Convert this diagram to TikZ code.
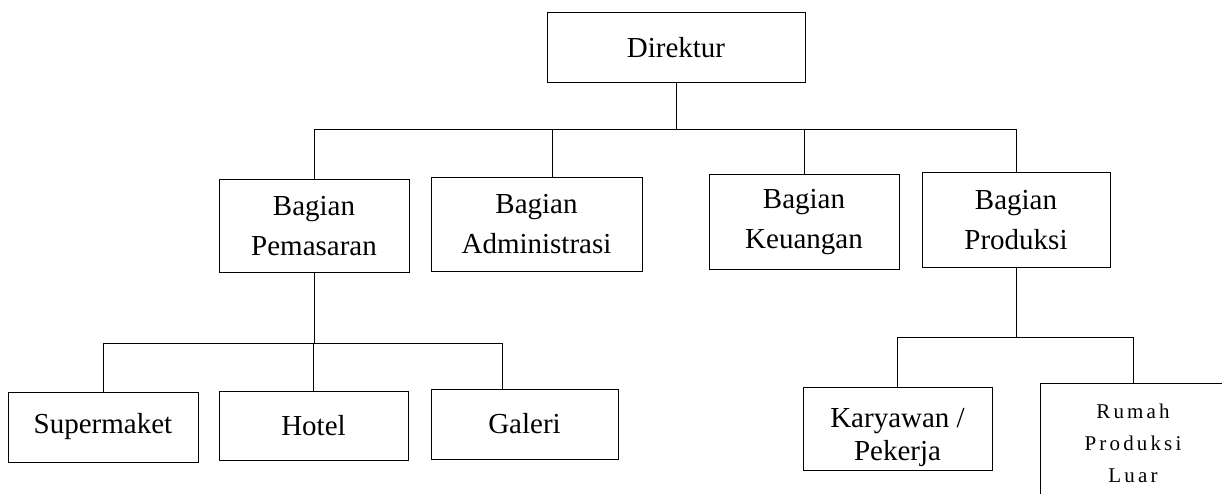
\documentclass[tikz,border=0pt]{standalone}
\usepackage{fontspec}
\setmainfont{Liberation Serif}
\usetikzlibrary{positioning}
\tikzset{
  % kotak jabatan
  box/.style={rectangle, draw=black, line width=1pt, fill=white, align=center,
              inner sep=0pt, font=\fontsize{29}{40}\selectfont},
  lnk/.style={draw=black, line width=1pt},
  % teks kecil berjarak huruf
  kecil/.style={font=\fontsize{21}{32}\selectfont\addfontfeature{LetterSpace=15}}
}
\begin{document}
\begin{tikzpicture}[x=1pt,y=-1pt]
    \useasboundingbox (0,0) rectangle (1222,494);
    \clip (0,0) rectangle (1222,494);

    % ---- pimpinan ----
    \node[box, minimum width=258, minimum height=70] (dir) at (676,48) {Direktur};

    % ---- bagian ----
    \node[box, minimum width=190, minimum height=92] (pem) at (314,226)   {Bagian\\Pemasaran};
    \node[box, minimum width=211, minimum height=93] (adm) at (536.5,224.5) {Bagian\\Administrasi};
    \node[box, minimum width=190, minimum height=94] (keu) at (804,222)   {Bagian\\Keuangan};
    \node[box, minimum width=188, minimum height=94] (pro) at (1016,220)  {Bagian\\Produksi};

    % ---- unit bawah ----
    \node[box, minimum width=190, minimum height=70] (sup) at (103,427)     {Supermaket};
    \node[box, minimum width=189, minimum height=69] (hot) at (313.5,425.5) {Hotel};
    \node[box, minimum width=187, minimum height=70] (gal) at (524.5,424)   {Galeri};
    \node[box, minimum width=189, minimum height=83, font=\fontsize{29}{33}\selectfont]
      (kar) at (897.5,428.5) {\rule{0pt}{38pt}Karyawan /\\Pekerja};
    \node[box, kecil, minimum width=186, minimum height=120] (rum) at (1133,443) {Rumah\\Produksi\\Luar};

    % garis-garis penghubung
    \coordinate (b1) at (0,130);
    \coordinate (b2) at (0,343);
    \coordinate (b3) at (0,337);
    \draw[lnk] (dir.south) -- (dir.south |- b1);
    \draw[lnk] (pem.north) -- (pem.north |- b1) -| (pro.north);
    \draw[lnk] ([xshift=15.5]adm.north) -- ([xshift=15.5]adm.north |- b1);
    \draw[lnk] (keu.north) -- (keu.north |- b1);

    \draw[lnk] (pem.south) -- (pem.south |- b2);
    \draw[lnk] (sup.north) -- (sup.north |- b2) -| ([xshift=-22.5]gal.north);
    \draw[lnk] (hot.north) -- (hot.north |- b2);

    \draw[lnk] (pro.south) -- (pro.south |- b3);
    \draw[lnk] (kar.north) -- (kar.north |- b3) -| (rum.north);
  \end{tikzpicture}
\end{document}
